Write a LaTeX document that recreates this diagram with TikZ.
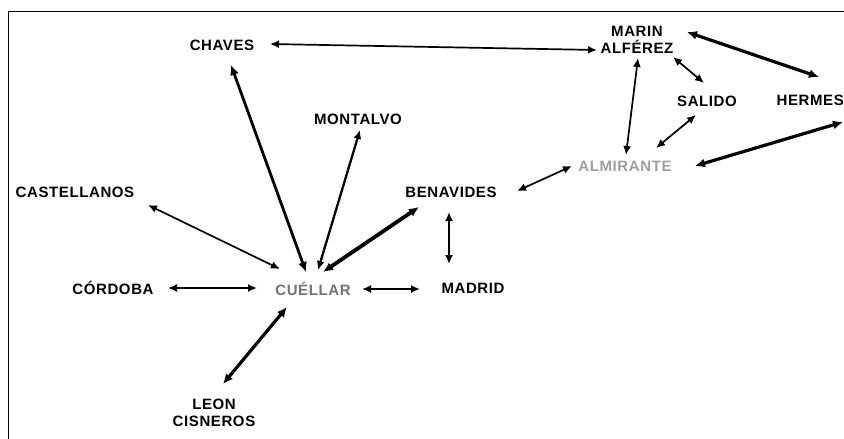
\documentclass[tikz,border=0pt]{standalone}
\usepackage{fontspec}
\setmainfont{Liberation Sans}[LetterSpace=4]
\usetikzlibrary{arrows.meta}
\definecolor{cuegray}{gray}{0.45}
\definecolor{almgray}{gray}{0.62}
\tikzset{
  place/.style={font=\bfseries\fontsize{15}{16.5}\selectfont, align=center, inner sep=0pt},
  link/.style={<->, >={Latex[length=9pt,width=8pt]}, line width=1.7pt},
  heavy/.style={<->, >={Latex[length=10pt,width=9pt]}, line width=3.2pt}
}
\begin{document}
\begin{tikzpicture}[x=1pt,y=-1pt]
  \useasboundingbox (0,0) rectangle (844,439);
  \clip (0,0) rectangle (844,439);
  \draw[line width=1pt] (8,460) -- (8,11) -- (860,11);
  % people
  \node[place] (chaves) at (222,45) {CHAVES};
  \node[place] (marin) at (637,40) {MARIN\\ALFÉREZ};
  \node[place] (salido) at (707,101) {SALIDO};
  \node[place, anchor=east] (hermes) at (844,100) {HERMES};
  \node[place, text=almgray] (almirante) at (625,166) {ALMIRANTE};
  \node[place] (montalvo) at (358,119) {MONTALVO};
  \node[place] (benavides) at (451,192) {BENAVIDES};
  \node[place] (madrid) at (473,288) {MADRID};
  \node[place, text=cuegray] (cuellar) at (313,289) {CUÉLLAR};
  \node[place] (castellanos) at (75,192) {CASTELLANOS};
  \node[place] (cordoba) at (113,288) {CÓRDOBA};
  \node[place] (leon) at (214,413) {LEON\\CISNEROS};
  % links around cuellar
  \draw[link] ([shift={(48,-1)}]chaves.center) -- ([shift={(-40,10)}]marin.center);
  \draw[heavy, line width=2.8pt] ([shift={(9,20)}]chaves.center) -- ([shift={(-7,-17)}]cuellar.center);
  \draw[link, line width=2.3pt] ([shift={(2,11)}]montalvo.center) -- ([shift={(5,-19)}]cuellar.center);
  \draw[heavy, line width=3.8pt] ([shift={(-32,15)}]benavides.center) -- ([shift={(10,-17)}]cuellar.center);
  \draw[link] ([shift={(73,13)}]castellanos.center) -- ([shift={(-33,-20)}]cuellar.center);
  \draw[link] ([shift={(55,0)}]cordoba.center) -- ([shift={(-56,-1)}]cuellar.center);
  \draw[link] ([shift={(49,0)}]cuellar.center) -- ([shift={(-53,1)}]madrid.center);
  \draw[link] ([shift={(-2,20)}]benavides.center) -- ([shift={(-24,-24)}]madrid.center);
  \draw[heavy] ([shift={(9,-29)}]leon.center) -- ([shift={(-26,18)}]cuellar.center);
  % links around almirante
  \draw[link] ([shift={(66,-1)}]benavides.center) -- ([shift={(-53,0)}]almirante.center);
  \draw[link] ([shift={(1,18)}]marin.center) -- ([shift={(1,-11)}]almirante.center);
  \draw[link] ([shift={(36,17)}]marin.center) -- ([shift={(-3,-18)}]salido.center);
  \draw[heavy] ([shift={(50,-8)}]marin.center) -- ([shift={(-25,-23)}]hermes.east);
  \draw[link] ([shift={(-11,14)}]salido.center) -- ([shift={(31,-18)}]almirante.center);
  \draw[heavy] ([shift={(70,0)}]almirante.center) -- ([shift={(-1,22)}]hermes.east);
\end{tikzpicture}
\end{document}
